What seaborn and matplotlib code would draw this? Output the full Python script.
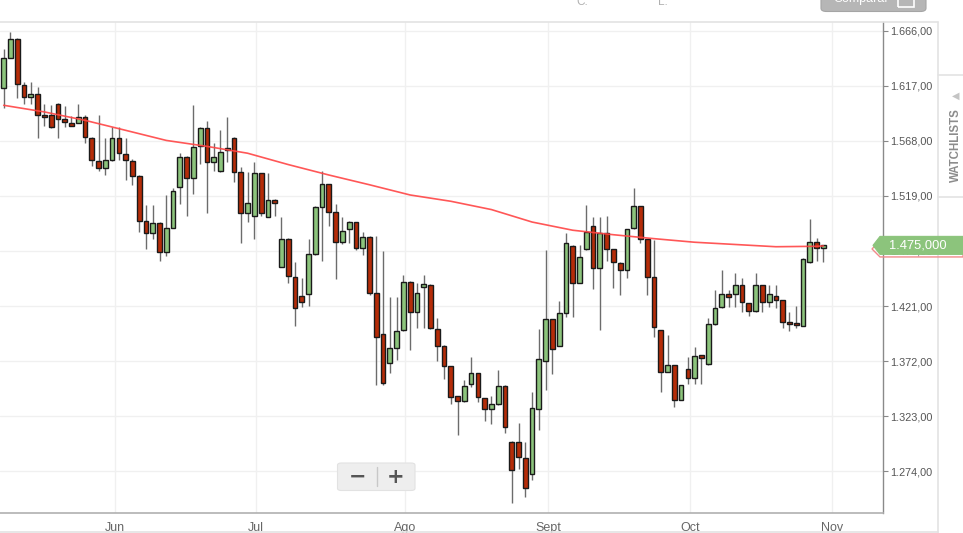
import numpy as np
import pandas as pd
import seaborn as sns
import matplotlib.pyplot as plt
from matplotlib.patches import Polygon, FancyBboxPatch, Rectangle
from matplotlib.lines import Line2D
from matplotlib.transforms import IdentityTransform

# daily candles (oldest first)
opens = [
    1615.0, 1642.2, 1658.9, 1617.9, 1607.5, 1609.9, 1591.2, 1591.2, 1601.0, 1587.3,
    1583.8, 1584.3, 1589.4, 1570.9, 1550.2, 1544.2, 1551.1, 1570.9, 1556.1, 1550.2,
    1537.1, 1496.7, 1485.8, 1495.2, 1468.8, 1490.7, 1526.8, 1554.0, 1535.3, 1563.8,
    1579.9, 1549.0, 1541.3, 1560.0, 1570.9, 1540.1, 1504.1, 1501.2, 1539.2, 1500.6,
    1515.4, 1456.0, 1480.7, 1446.8, 1430.2, 1431.4, 1467.3, 1509.5, 1529.4, 1505.0,
    1478.3, 1489.6, 1495.6, 1472.4, 1482.7, 1432.3, 1395.8, 1370.0, 1383.9, 1399.6,
    1442.7, 1415.4, 1438.2, 1439.7, 1400.5, 1385.6, 1367.5, 1340.5, 1336.4, 1351.2,
    1361.0, 1338.8, 1329.2, 1333.7, 1350.0, 1300.1, 1300.1, 1285.3, 1271.1, 1329.2,
    1372.3, 1409.4, 1385.6, 1415.0, 1474.5, 1441.8, 1471.5, 1492.3, 1454.6, 1486.3,
    1471.5, 1459.6, 1453.1, 1490.2, 1510.1, 1480.4, 1447.1, 1399.6, 1362.5, 1368.4,
    1337.3, 1364.6, 1356.6, 1377.3, 1369.1, 1405.0, 1420.4, 1431.4, 1431.4, 1439.7,
    1423.4, 1416.5, 1439.7, 1424.8, 1430.2, 1426.3, 1407.0, 1406.1, 1403.4, 1460.0,
    1477.8, 1472.4]
highs = [
    1650.0, 1665.4, 1659.5, 1620.8, 1620.3, 1615.8, 1600.7, 1599.8, 1601.5, 1599.5,
    1590.5, 1601.0, 1590.9, 1571.3, 1591.2, 1570.4, 1580.7, 1580.7, 1570.9, 1552.2,
    1537.5, 1511.0, 1511.0, 1495.5, 1519.9, 1526.4, 1557.0, 1554.5, 1600.1, 1580.7,
    1585.8, 1566.0, 1577.8, 1589.7, 1571.3, 1545.1, 1540.1, 1549.0, 1539.6, 1539.2,
    1515.9, 1500.6, 1481.2, 1460.5, 1445.7, 1480.7, 1510.0, 1541.3, 1529.8, 1511.6,
    1500.6, 1496.7, 1496.0, 1487.2, 1483.2, 1483.6, 1470.0, 1429.3, 1429.3, 1448.6,
    1443.0, 1441.2, 1448.6, 1440.2, 1410.6, 1386.0, 1367.9, 1340.9, 1355.1, 1375.3,
    1361.4, 1339.2, 1341.1, 1364.0, 1350.4, 1300.5, 1316.5, 1300.1, 1344.1, 1400.5,
    1470.9, 1409.8, 1425.5, 1485.8, 1474.9, 1475.3, 1511.0, 1500.0, 1500.6, 1501.2,
    1471.9, 1460.0, 1489.8, 1525.9, 1510.5, 1480.8, 1479.8, 1400.0, 1395.2, 1368.8,
    1351.0, 1375.3, 1384.8, 1377.7, 1410.3, 1435.2, 1453.1, 1435.2, 1450.7, 1446.2,
    1423.8, 1450.7, 1440.1, 1439.7, 1439.7, 1426.7, 1415.4, 1421.3, 1463.4, 1498.5,
    1481.3, 1475.7]
lows = [
    1597.1, 1641.5, 1606.6, 1601.0, 1601.2, 1570.9, 1581.6, 1579.3, 1570.9, 1580.7,
    1581.0, 1584.0, 1566.0, 1546.0, 1541.3, 1537.7, 1550.5, 1551.1, 1533.3, 1528.5,
    1487.2, 1471.8, 1480.7, 1461.1, 1465.8, 1490.3, 1511.6, 1501.2, 1520.5, 1547.2,
    1504.1, 1541.3, 1540.8, 1549.3, 1531.2, 1476.9, 1496.1, 1480.7, 1501.2, 1500.3,
    1501.5, 1455.6, 1441.2, 1403.4, 1420.4, 1421.3, 1466.8, 1461.1, 1492.5, 1445.1,
    1476.0, 1476.9, 1470.9, 1466.4, 1430.8, 1350.6, 1350.6, 1361.0, 1372.9, 1399.1,
    1381.8, 1401.7, 1401.7, 1400.5, 1372.0, 1356.0, 1333.4, 1306.1, 1335.8, 1349.1,
    1335.2, 1318.5, 1315.6, 1333.2, 1307.6, 1245.2, 1275.8, 1251.1, 1266.0, 1310.5,
    1346.2, 1360.2, 1385.2, 1411.5, 1411.5, 1441.4, 1471.1, 1435.9, 1399.6, 1461.4,
    1436.8, 1430.8, 1445.7, 1489.8, 1476.9, 1430.8, 1393.1, 1344.6, 1362.1, 1331.3,
    1336.9, 1351.5, 1351.5, 1351.5, 1368.7, 1404.1, 1419.0, 1420.4, 1420.4, 1415.9,
    1412.4, 1416.1, 1415.4, 1420.4, 1419.0, 1401.7, 1399.1, 1401.7, 1403.0, 1459.6,
    1461.1, 1460.5]
closes = [
    1641.7, 1658.9, 1618.5, 1607.5, 1610.1, 1591.2, 1589.1, 1580.5, 1587.6, 1584.7,
    1581.6, 1589.4, 1571.8, 1551.1, 1544.2, 1551.1, 1570.9, 1557.0, 1551.1, 1537.1,
    1496.7, 1485.8, 1495.2, 1468.8, 1490.2, 1523.5, 1554.0, 1535.3, 1562.9, 1579.9,
    1549.0, 1554.0, 1557.9, 1562.0, 1540.1, 1504.1, 1512.5, 1539.2, 1503.6, 1515.4,
    1512.5, 1480.4, 1448.0, 1419.5, 1424.8, 1467.3, 1509.5, 1529.4, 1505.0, 1478.3,
    1487.8, 1495.6, 1472.4, 1482.7, 1432.8, 1393.7, 1352.1, 1383.3, 1399.0, 1442.7,
    1415.4, 1432.9, 1440.3, 1401.7, 1385.6, 1367.8, 1340.2, 1336.4, 1350.0, 1361.0,
    1339.9, 1329.2, 1333.7, 1350.0, 1313.5, 1274.9, 1286.7, 1258.6, 1329.9, 1373.5,
    1409.4, 1382.7, 1414.5, 1476.9, 1441.8, 1465.0, 1487.2, 1454.6, 1486.3, 1471.5,
    1460.5, 1453.1, 1489.3, 1510.1, 1480.4, 1447.1, 1402.0, 1362.5, 1368.4, 1337.3,
    1350.6, 1356.6, 1376.9, 1374.4, 1404.7, 1419.2, 1431.4, 1429.3, 1439.7, 1424.3,
    1416.5, 1439.7, 1424.8, 1431.4, 1426.3, 1407.0, 1404.7, 1404.1, 1462.9, 1477.8,
    1472.4, 1475.0]

# moving average, read every 6th session
ma_day = [0, 6, 12, 18, 24, 30, 36, 42, 48, 54, 60, 66, 72, 78, 84, 90, 96,
          102, 108, 114, 120, 121]
ma_value = [1599.8, 1593.9, 1586.4, 1577.5, 1568.5, 1563.2, 1557.1, 1547.0,
            1537.7, 1529.0, 1519.9, 1514.3, 1506.9, 1495.8, 1488.5, 1484.5,
            1481.0, 1477.8, 1475.8, 1473.8, 1474.2, 1474.5]

month_labels = ["Jun", "Jul", "Ago", "Sept", "Oct", "Nov"]
month_day = [16.39, 37.29, 59.29, 80.35, 101.32, 122.23]
price_ticks = [1274, 1323, 1372, 1421, 1470, 1519, 1568, 1617, 1666]
last_price = 1475.0

GREEN = "#8cc47c"
RED = "#b52c08"


def es_number(v, decimals=2):
    return f"{v:,.{decimals}f}".replace(",", "X").replace(".", ",").replace("X", ".")


sns.set_theme(style="white")
plt.rcParams["font.family"] = ["Liberation Sans", "DejaVu Sans"]

W, H = 963, 533
fig = plt.figure(figsize=(W / 100, H / 100), dpi=100)
ax = fig.add_axes([0, 1 - 513 / H, 882.7 / W, 491 / H])

df = pd.DataFrame({"open": opens, "high": highs, "low": lows, "close": closes})
df["day"] = np.arange(len(df))
df["body_lo"] = df[["open", "close"]].min(axis=1)
df["body_h"] = (df["close"] - df["open"]).abs().clip(lower=0.9)
colors = np.where(df["close"] >= df["open"], GREEN, RED)

ax.vlines(df["day"], df["low"], df["high"], color="#6c6c6c", lw=1.0, zorder=2)
ax.bar(df["day"], df["body_h"], bottom=df["body_lo"], width=0.7,
       color=colors, edgecolor="#1a1a1a", linewidth=1.0, zorder=3)

ma = pd.DataFrame({"day": ma_day, "ma": ma_value})
sns.lineplot(data=ma, x="day", y="ma", ax=ax, color="#ff4545", lw=1.2,
             alpha=0.9, zorder=4)

ax.set_xlim(-0.55, 129.76)
ax.set_ylim(1236.6, 1674.0)
ax.set_xlabel("")
ax.set_ylabel("")

ax.set_xticks(month_day)
ax.set_xticklabels(month_labels)
ax.set_yticks(price_ticks)
ax.set_yticklabels([es_number(v) for v in price_ticks])
ax.yaxis.tick_right()
ax.tick_params(axis="y", direction="out", length=3.5, width=0.8, color="#888888",
               labelsize=7.8, labelcolor="#555555", pad=2)
ax.tick_params(axis="x", direction="out", length=4, width=0.8, color="#aaaaaa",
               labelsize=9, labelcolor="#666666", pad=2.5)
ax.grid(True, color="#f0f0f0", lw=1)
ax.set_axisbelow(True)
for s in ["top", "left"]:
    ax.spines[s].set_visible(False)
ax.spines["right"].set_color("#8a8a8a")
ax.spines["right"].set_linewidth(1)
ax.spines["bottom"].set_color("#b0b0b0")
ax.spines["bottom"].set_linewidth(1.2)


def fx(x):
    return x / W


def fy(y):
    return 1 - y / H


# outer frame of the widget
for xs, ys in [([0, 937.7], [22, 22]), ([937.7, 937.7], [22, 533]),
               ([0, 937.7], [531.5, 531.5]), ([937.7, 963], [75, 75]),
               ([937.7, 963], [197, 197])]:
    fig.add_artist(Line2D([fx(v) for v in xs], [fy(v) for v in ys],
                          color="#e3e3e3", lw=1.2, transform=fig.transFigure))

fig.text(fx(955.5), fy(145), "WATCHLISTS", rotation=90, ha="center", va="center",
         fontsize=8.3, fontweight="bold", color="#8c8c8c")
fig.text(fx(955.5), fy(96), "\u25C0", ha="center", va="center",
         fontsize=7, color="#c4c4c4", family=["DejaVu Sans"])

# header leftovers
fig.text(fx(576), fy(2), "C:", ha="left", va="center", fontsize=8.5, color="#b0b0b0")
fig.text(fx(658), fy(2), "L:", ha="left", va="center", fontsize=8.5, color="#b0b0b0")
fig.add_artist(FancyBboxPatch((fx(821), fy(11.5)), fx(105), 0.05,
                              boxstyle="round,pad=0,rounding_size=0.006",
                              transform=fig.transFigure, fc="#b6b6b6", ec="#a5a5a5", lw=0.8))
fig.text(fx(833), fy(-1), "Comparar", ha="left", va="center", fontsize=9,
         color="white")
fig.add_artist(Rectangle((fx(898), fy(7)), fx(16), fy(-6) - fy(7), fill=False,
                         ec="white", lw=1.2, transform=fig.transFigure))

# zoom control
fig.add_artist(FancyBboxPatch((fx(337.5), fy(490.5)), fx(77.5), fy(463) - fy(490.5),
                              boxstyle="round,pad=0,rounding_size=0.004",
                              transform=fig.transFigure, fc="#eeeeee", ec="#e2e2e2", lw=0.8))
fig.add_artist(Line2D([fx(377.3)] * 2, [fy(467), fy(486)], color="#c8c8c8", lw=1,
                      transform=fig.transFigure))
fig.text(fx(357.5), fy(477), "\u2212", ha="center", va="center", fontsize=15,
         fontweight="bold", color="#555555", family=["DejaVu Sans"])
fig.text(fx(395.5), fy(477), "+", ha="center", va="center", fontsize=15,
         fontweight="bold", color="#555555", family=["DejaVu Sans"])

# price tags on the right
fig.canvas.draw()
y_last = ax.transData.transform((0, last_price))[1]
y_ma = ax.transData.transform((0, ma_value[-1]))[1] - 3
tag_ma = Polygon([(872, y_ma), (880, y_ma + 8), (963, y_ma + 8), (963, y_ma - 8),
                  (880, y_ma - 8)], closed=True, transform=IdentityTransform(),
                 fill=False, ec="#f08a8a", lw=1.0, zorder=5)
fig.add_artist(tag_ma)
tag = Polygon([(873, y_last), (880, y_last + 9), (963, y_last + 9), (963, y_last - 9),
               (880, y_last - 9)], closed=True, transform=IdentityTransform(),
              fc=GREEN, ec=GREEN, lw=0.8, zorder=6)
fig.add_artist(tag)
fig.text(fx(888.5), y_last / H, es_number(last_price, 3),
         ha="left", va="center", fontsize=9.3, color="white", zorder=7)

fig.savefig("out.png", dpi=100)
